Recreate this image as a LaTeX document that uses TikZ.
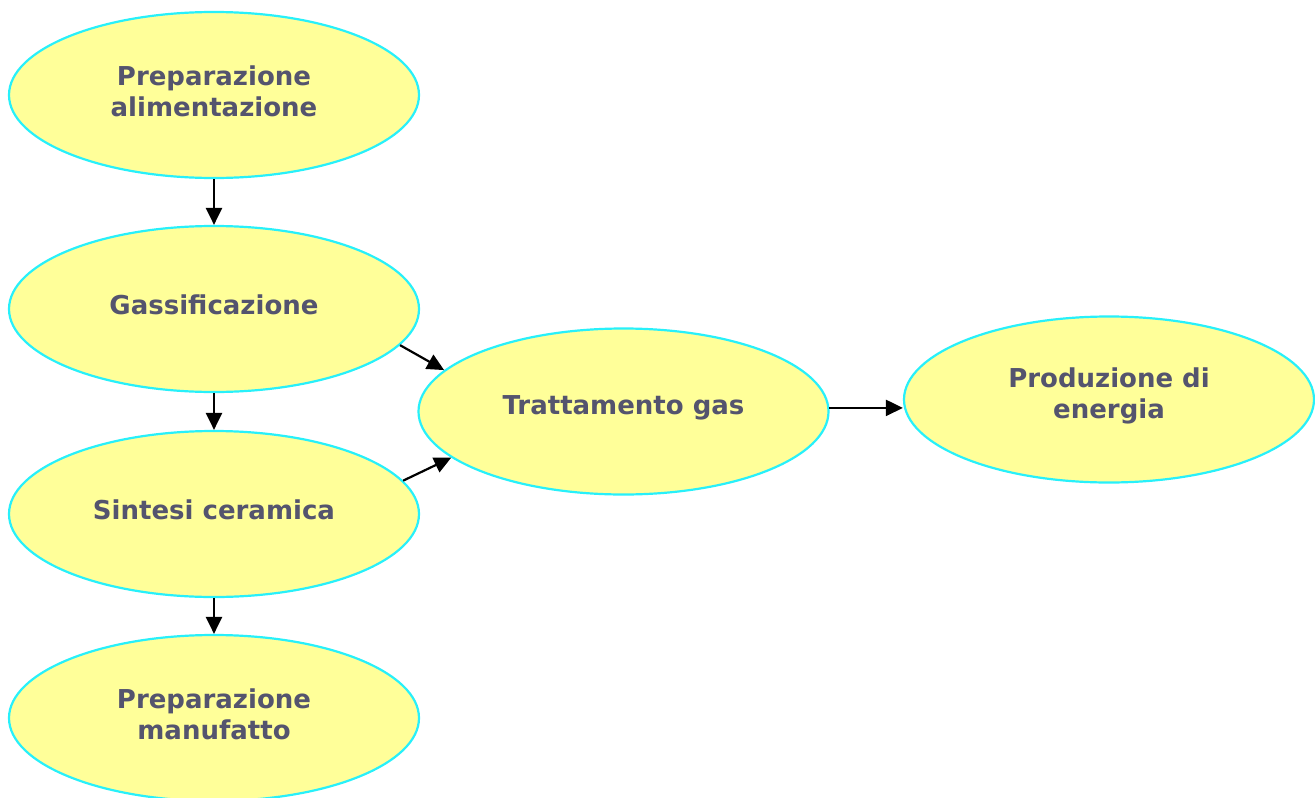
\documentclass[tikz,border=0pt]{standalone}
\usepackage{fontspec}
\setmainfont{DejaVu Sans}
\usetikzlibrary{shapes.geometric,arrows.meta}
\definecolor{fillY}{RGB}{255,255,153}
\definecolor{edgeC}{RGB}{40,240,250}
\definecolor{txtC}{RGB}{84,84,110}
\tikzset{
  proc/.style={ellipse, draw=edgeC, fill=fillY, line width=2.2pt, minimum width=410pt, minimum height=166pt, inner sep=0pt},
  ptext/.style={align=center, text=txtC, inner sep=0pt, font=\fontsize{26}{31}\selectfont\bfseries, yshift=4pt},
  conn/.style={line width=2.2pt, -{Triangle[length=17pt,width=16pt]}}
}
\begin{document}
\begin{tikzpicture}[x=1pt,y=-1pt]
\useasboundingbox (0,0) rectangle (1315,798);
\node[proc, label={[ptext, name=aT]center:{Preparazione\\alimentazione}}] (a) at (214,95) {};
\node[proc, label={[ptext, name=gT]center:{Gassificazione}}] (g) at (214,309) {};
\node[proc, label={[ptext, name=sT]center:{Sintesi ceramica}}] (s) at (214,514) {};
\node[proc, label={[ptext, name=mT]center:{Preparazione\\manufatto}}] (m) at (214,718) {};
\node[proc, label={[ptext, name=tT]center:{Trattamento gas}}] (t) at (623.5,411.5) {};
\node[proc, label={[ptext, name=pT]center:{Produzione di\\energia}}] (p) at (1109,399.5) {};
\draw[conn] (a.south) -- (g.north);
\draw[conn] (g.south) -- (s.north);
\draw[conn] (s.south) -- (m.north);
\draw[conn] (g.-11.7) -- (t.167.2);
\draw[conn] (s.10.9) -- (t.-165.7);
\draw[conn] (t.1.8) -- (t.1.8 -| p.west);
\end{tikzpicture}
\end{document}
